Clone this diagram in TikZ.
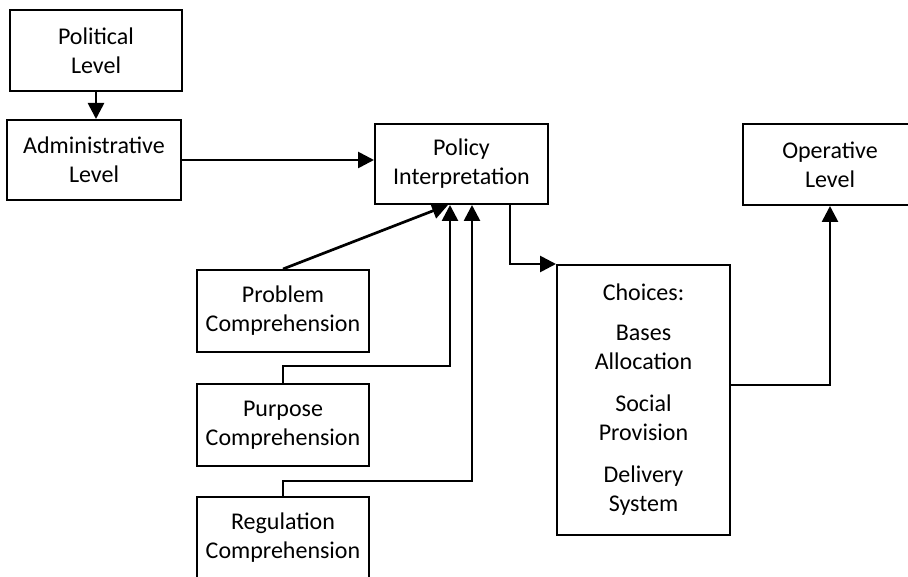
\documentclass[tikz,border=0pt]{standalone}
\usepackage{fontspec}
\setmainfont{Carlito}
\usetikzlibrary{arrows.meta}

\begin{document}
\begin{tikzpicture}[x=1pt,y=-1pt,
    box/.style={draw,line width=2pt,align=center,inner sep=0pt,
      font=\fontsize{24}{29}\selectfont},
    arr/.style={line width=2.7pt,-{Triangle[length=16pt,width=16pt]}}]
    \useasboundingbox (0,0) rectangle (908,577);
    \node[box,minimum width=172pt,minimum height=81pt] (pol) at (96,50.5) {Political\\Level};
    \node[box,minimum width=174pt,minimum height=80pt] (adm) at (94,160) {Administrative\\Level};
    \node[box,minimum width=173pt,minimum height=80pt] (policy) at (461.5,164) {Policy\\Interpretation};
    \node[box,minimum width=174pt,minimum height=81pt] (oper) at (830,164.5) {Operative\\Level};
    \node[box,minimum width=172pt,minimum height=82pt] (prob) at (283,311) {Problem\\Comprehension};
    \node[box,minimum width=172pt,minimum height=82pt] (purp) at (283,425) {Purpose\\Comprehension};
    \node[box,minimum width=172pt,minimum height=82pt] (regl) at (283,538) {Regulation\\Comprehension};
    \node[box,minimum width=173pt,minimum height=270pt] (choice) at (643.5,400)
      {Choices:\\[11pt]Bases\\Allocation\\[13pt]Social\\Provision\\[13pt]Delivery\\System};
%    arrows
    \draw[arr] (pol.south) -- (pol.south |- adm.north);
    \draw[arr] (adm.east) -- (adm.east -| policy.west);
    \draw[arr] (prob.north) -- ([xshift=-13.5pt]policy.south);
    \draw[arr] (purp.north) -- ++(0,-17) -| ([xshift=-11.5pt]policy.south);
    \draw[arr] (regl.north) -- ++(0,-15) -| ([xshift=10.5pt]policy.south);
    \draw[arr] ([xshift=48.5pt]policy.south) |- (choice.north west);
    \draw[arr] ([yshift=15pt]choice.east) -| (oper.south);
\end{tikzpicture}
\end{document}
